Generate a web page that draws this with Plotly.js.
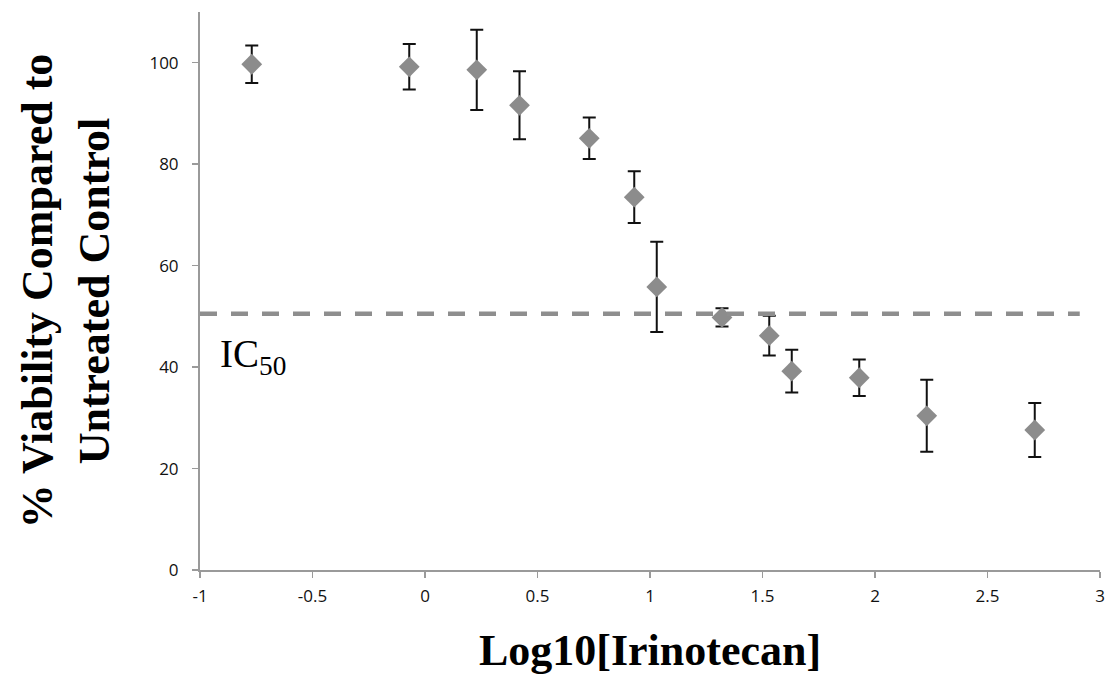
<!DOCTYPE html>
<html>
<head>
<meta charset="utf-8">
<script src="https://cdn.plot.ly/plotly-3.0.1.min.js"></script>
<style>html,body{margin:0;padding:0;background:#fff;}#chart{width:1111px;height:684px;}</style>
</head>
<body>
<div id="chart"></div>
<script>
// Data
const logConc   = [-0.77, -0.07, 0.23, 0.42, 0.73, 0.93, 1.03, 1.32, 1.53, 1.63, 1.93, 2.23, 2.71];
const viability = [99.7, 99.2, 98.6, 91.6, 85.1, 73.5, 55.8, 49.8, 46.2, 39.2, 37.9, 30.4, 27.6];
const errSD     = [3.7, 4.5, 7.9, 6.7, 4.1, 5.1, 8.9, 1.8, 3.9, 4.2, 3.6, 7.1, 5.3];
const ic50X     = [-1, 2.91];
const ic50Y     = [50.5, 50.5];
const xTicks    = [-1, -0.5, 0, 0.5, 1, 1.5, 2, 2.5, 3];
const yTicks    = [0, 20, 40, 60, 80, 100];

const data = [
  {
    x: logConc, y: viability, type: 'scatter', mode: 'markers',
    marker: {symbol: 'diamond', size: 16, color: '#8c8c8c'},
    error_y: {type: 'data', array: errSD, visible: true, color: '#111', thickness: 2, width: 6.5},
    hoverinfo: 'x+y', showlegend: false
  },
  {
    x: ic50X, y: ic50Y, type: 'scatter', mode: 'lines',
    line: {color: '#8e8e8e', width: 4.5, dash: '17px,14px'},
    hoverinfo: 'skip', showlegend: false
  }
];

const serif = 'Liberation Serif, Times New Roman, serif';
const sans = 'Open Sans, sans-serif';

const layout = {
  width: 1111, height: 684,
  margin: {l: 200, r: 11, t: 12, b: 114},
  paper_bgcolor: '#fff', plot_bgcolor: '#fff',
  showlegend: false,
  xaxis: {
    range: [-1, 3], tickvals: xTicks, ticktext: xTicks.map(String),
    showgrid: false, zeroline: false,
    showline: true, linecolor: '#9a9a9a', linewidth: 2,
    ticks: 'outside', ticklen: 6, tickcolor: '#9a9a9a', tickwidth: 1.5,
    tickfont: {family: sans, size: 17, color: '#111'},
    ticklabelstandoff: 4,
    title: {text: 'Log10[Irinotecan]', font: {family: serif, size: 44, color: '#000', weight: 700}, standoff: 28}
  },
  yaxis: {
    range: [0, 110], tickvals: yTicks, ticktext: yTicks.map(String),
    showgrid: false, zeroline: false,
    showline: true, linecolor: '#9a9a9a', linewidth: 2,
    ticks: 'outside', ticklen: 6, tickcolor: '#9a9a9a', tickwidth: 1.5,
    tickfont: {family: sans, size: 17, color: '#111'},
    ticklabelstandoff: 10,
    title: {text: '% Viability Compared to<br>Untreated Control', font: {family: serif, size: 44, color: '#000', weight: 700}, standoff: 26}
  },
  annotations: [
    {
      x: -0.92, y: 42, xref: 'x', yref: 'y', xanchor: 'left', yanchor: 'middle',
      text: 'IC<sub>50</sub>', showarrow: false,
      font: {family: serif, size: 39, color: '#000'}
    }
  ]
};

Plotly.newPlot('chart', data, layout, {displayModeBar: false, staticPlot: true});
</script>
</body>
</html>
